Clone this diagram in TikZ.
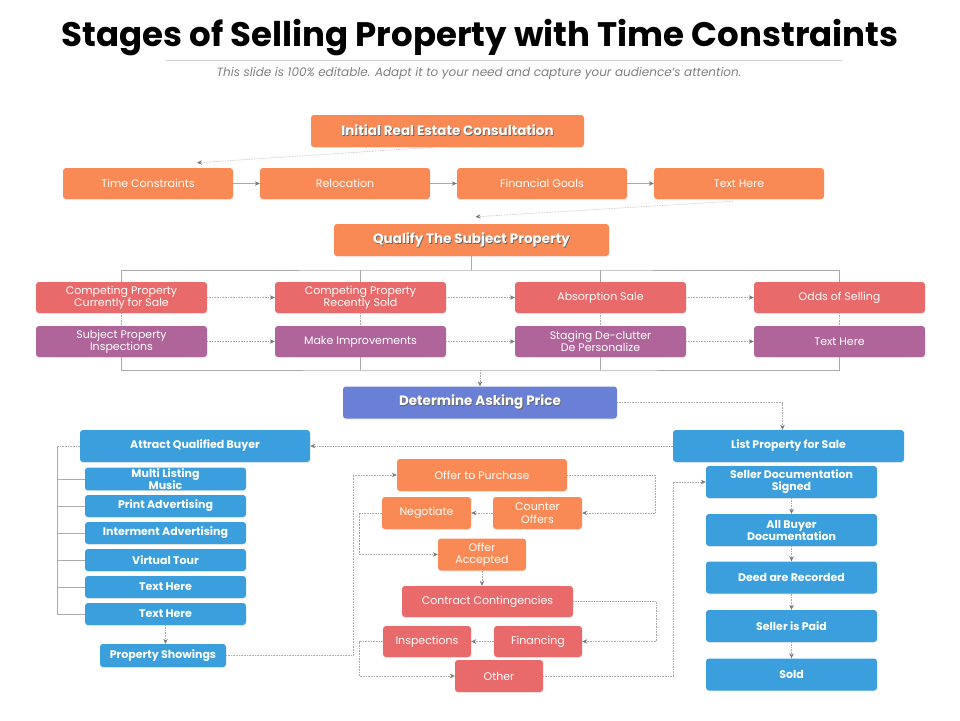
\documentclass[tikz,border=0pt]{standalone}
\usepackage{fontspec}
\setmainfont{Poppins}
\usepackage{xcolor}
\usetikzlibrary{positioning,arrows.meta,calc,shadows}

\definecolor{orangeC}{HTML}{FA8A55}
\definecolor{redC}{HTML}{E86A6B}
\definecolor{purpleC}{HTML}{B0659A}
\definecolor{violetC}{HTML}{6A80D6}
\definecolor{blueC}{HTML}{3A9FDC}
\definecolor{lineC}{HTML}{ABABAB}
\definecolor{tipC}{HTML}{7A7A7A}
\newcommand\shadowed[1]{\leavevmode\rlap{\kern0.8pt\raisebox{-0.8pt}{\color{black!60}#1}}#1}

\begin{document}
\begin{tikzpicture}[x=1pt,y=-1pt,>=Stealth,
    box/.style={rounded corners=3pt,text=white,align=center,inner sep=1pt,
      minimum height=31pt,font=\fontsize{11}{12.5}\selectfont,
      drop shadow={opacity=0.12,shadow xshift=0pt,shadow yshift=-1pt}},
    obox/.style={box,fill=orangeC},
    rbox/.style={box,fill=redC},
    pbox/.style={box,fill=purpleC,minimum width=171pt},
    headbox/.style={box,minimum height=32pt,font=\bfseries\fontsize{13.5}{15}\selectfont},
    bbox/.style={box,fill=blueC,font=\bfseries\fontsize{11}{12}\selectfont},
    sbox/.style={bbox,minimum width=161pt,minimum height=22pt},
    tree/.style={draw=lineC,line width=0.6pt},
    flow/.style={draw=lineC,line width=0.6pt,-{Stealth[length=5pt,width=4.5pt,color=tipC]}},
    dflow/.style={flow,densely dotted}]
    \useasboundingbox[fill=white] (0,0) rectangle (960,720);

    % heading
    \node (title) at (480,38) {\bfseries\fontsize{34}{38}\selectfont Stages of Selling Property with Time Constraints};
    \draw[black!18,line width=0.6pt] (166,60) -- (842,60);
    \node[text=black!50] (sub) at (479,73) {\itshape\fontsize{12}{14}\selectfont This slide is 100\% editable. Adapt it to your need and capture your audience’s attention.};

    % consultation
    \node[headbox,fill=orangeC,minimum width=273pt] (irec) at (447.5,131) {\shadowed{Initial Real Estate Consultation}};
    \node[obox,minimum width=170pt] (tc) at (148,183.5) {Time Constraints};
    \node[obox,minimum width=170pt] (rel) at (345,183.5) {Relocation};
    \node[obox,minimum width=170pt] (fg) at (542,183.5) {Financial Goals};
    \node[obox,minimum width=170pt] (th1) at (739,183.5) {Text Here};
    \draw[dflow] ([xshift=-14pt]irec.south) -- ([xshift=49pt,yshift=5pt]tc.north);
    \foreach \a/\b in {tc/rel,rel/fg,fg/th1} {\draw[flow] (\a.east) -- (\b.west);}

    % subject property
    \node[headbox,fill=orangeC,minimum width=275pt] (qual) at (471.5,240) {\shadowed{Qualify The Subject Property}};
    \draw[dflow] ([xshift=-6pt,yshift=-2pt]th1.south) -- ([xshift=4pt,yshift=7pt]qual.north);
    \node[rbox,minimum width=171pt] (cps) at (121.5,297.5) {Competing Property\\Currently for Sale};
    \node[rbox,minimum width=171pt] (cpr) at (360.5,297.5) {Competing Property\\Recently Sold};
    \node[rbox,minimum width=171pt] (abs) at (600.5,297.5) {Absorption Sale};
    \node[rbox,minimum width=171pt] (ods) at (839.5,297.5) {Odds of Selling};
    \node[pbox] (spi) at (121.5,341.5) {Subject Property\\Inspections};
    \node[pbox] (mki) at (360.5,341.5) {Make Improvements};
    \node[pbox] (stg) at (600.5,341.5) {Staging De-clutter\\De Personalize};
    \node[pbox] (th2) at (839.5,341.5) {Text Here};
    \coordinate (bustop) at (471.5,270);
    \coordinate (busbot) at (480,370);
    \draw[tree] (qual.south) -- (bustop);
    \draw[tree] (cps.north) |- (bustop) -| (ods.north);
    \foreach \n in {cpr,abs} {\draw[tree] (\n.north) -- (\n.north |- bustop);}
    \draw[tree] (spi.south) |- (busbot) -| (th2.south);
    \foreach \n in {mki,stg} {\draw[tree] (\n.south) -- (\n.south |- busbot);}
    \foreach \a/\b in {cps/spi,cpr/mki,abs/stg,ods/th2} {\draw[tree,densely dotted] (\a.south) -- (\b.north);}
    \foreach \a/\b in {cps/cpr,cpr/abs,abs/ods,spi/mki,mki/stg,stg/th2} {\draw[dflow] (\a.east) -- (\b.west);}

    % asking price
    \node[headbox,fill=violetC,minimum width=274pt] (det) at (480,402.5) {\shadowed{Determine Asking Price}};
    \draw[dflow] (busbot) -- (det.north);
    \node[bbox,minimum width=231pt,minimum height=32pt] (lps) at (788.5,446) {List Property for Sale};
    \node[bbox,minimum width=230pt,minimum height=32pt] (aqb) at (195,446) {Attract Qualified Buyer};
    \draw[dflow] (det.east) -| ([xshift=-6pt]lps.north);
    \draw[dflow] (lps.west) -- (aqb.east);

    % buyer side
    \node[sbox] (mlm) at (165.5,479) {Multi Listing\\Music};
    \node[sbox] (pad) at (165.5,506) {Print Advertising};
    \node[sbox] (iad) at (165.5,533) {Interment Advertising};
    \node[sbox] (vtr) at (165.5,560) {Virtual Tour};
    \node[sbox] (th3) at (165.5,587) {Text Here};
    \node[sbox] (th4) at (165.5,614) {Text Here};
    \node[bbox,minimum width=126pt,minimum height=23pt] (psh) at (163,655.5) {Property Showings};
    \coordinate (brk) at (57,446);
    \draw[tree,densely dotted] (aqb.west) -- (brk);
    \draw[tree] (brk) |- (th4.west);
    \foreach \n in {mlm,pad,iad,vtr,th3} {\draw[tree] (\n.west) -- (\n.west -| brk);}
    \draw[dflow] (th4.south) -- (th4.south |- psh.north);

    % offers
    \node[obox,minimum width=170pt,minimum height=32pt] (otp) at (482,475) {Offer to Purchase};
    \node[obox,minimum width=89pt,minimum height=32pt] (neg) at (426.5,513) {Negotiate};
    \node[obox,minimum width=89pt,minimum height=32pt] (cof) at (537.5,513) {Counter\\Offers};
    \node[obox,minimum width=88pt,minimum height=32pt] (oac) at (482,554.5) {Offer\\Accepted};
    \draw[dflow] (psh.east) -| ([xshift=-44pt]otp.west) -- (otp.west);
    \draw[dflow] (otp.east) -| ([xshift=73pt]cof.east) -- (cof.east);
    \draw[dflow] (cof.west) -- (neg.east);
    \draw[dflow] (neg.west) -| ([xshift=-79pt]oac.west) -- (oac.west);

    % contingencies
    \node[rbox,minimum width=171pt] (ccg) at (487.5,601.5) {Contract Contingencies};
    \node[rbox,minimum width=88pt] (ins) at (427,641.5) {Inspections};
    \node[rbox,minimum width=88pt] (fin) at (538,641.5) {Financing};
    \node[rbox,minimum width=88pt,minimum height=32pt] (oth) at (499,676) {Other};
    \draw[dflow] (oac.south) -- (oac.south |- ccg.north);
    \draw[dflow] (ccg.east) -| ([xshift=74pt]fin.east) -- (fin.east);
    \draw[dflow] (fin.west) -- (ins.east);
    \draw[dflow] (ins.west) -| ([xshift=-96pt]oth.west) -- (oth.west);

    % closing
    \node[bbox,minimum width=171pt,minimum height=32pt] (sds) at (791.5,482) {Seller Documentation\\Signed};
    \node[bbox,minimum width=171pt,minimum height=32pt] (abd) at (791.5,530) {All Buyer\\Documentation};
    \node[bbox,minimum width=171pt,minimum height=32pt] (dar) at (791.5,577.5) {Deed are Recorded};
    \node[bbox,minimum width=171pt,minimum height=32pt] (sip) at (791.5,626) {Seller is Paid};
    \node[bbox,minimum width=171pt,minimum height=32pt] (sld) at (791.5,674.5) {Sold};
    \draw[dflow] (oth.east) -| ([xshift=-33pt]sds.west) -- (sds.west);
    \foreach \a/\b in {sds/abd,abd/dar,dar/sip,sip/sld} {\draw[dflow] (\a.south) -- (\b.north);}
\end{tikzpicture}
\end{document}
